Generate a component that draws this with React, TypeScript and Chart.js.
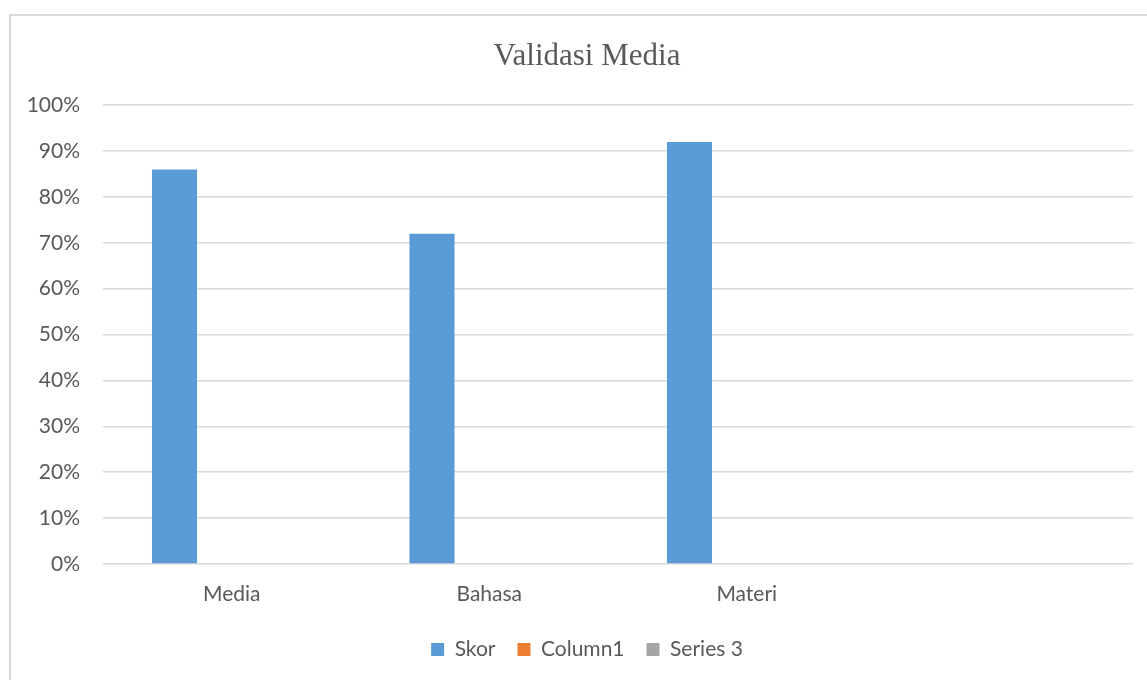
import React, { useEffect, useRef } from "react";
import { Chart, registerables } from "chart.js";

Chart.register(...registerables);

const categories = ["Media", "Bahasa", "Materi", ""];
const skorValues = [86, 72, 92, null];
const column1Values = [null, null, null, null];
const series3Values = [null, null, null, null];
const yTicks = [0, 10, 20, 30, 40, 50, 60, 70, 80, 90, 100];

const TEXT = "#595959";
const SANS = "Lato";

export default function App() {
  const ref = useRef<HTMLCanvasElement | null>(null);

  useEffect(() => {
    if (!ref.current) return;
    const chart = new Chart(ref.current, {
      type: "bar",
      data: {
        labels: categories,
        datasets: [
          { label: "Skor", data: skorValues, backgroundColor: "#5B9BD5", borderWidth: 0, yAxisID: "y" },
          { label: "Column1", data: column1Values, backgroundColor: "#ED7D31", borderWidth: 0, yAxisID: "y" },
          { label: "Series 3", data: series3Values, backgroundColor: "#A5A5A5", borderWidth: 0, yAxisID: "y" },
        ],
      },
      options: {
        animation: false,
        responsive: false,
        maintainAspectRatio: false,
        devicePixelRatio: 1,
        datasets: { bar: { categoryPercentage: 0.667, barPercentage: 0.787 } },
        layout: { padding: { left: 16, right: 0, top: 0, bottom: 10 } },
        plugins: {
          tooltip: { enabled: false },
          title: {
            display: true,
            text: "Validasi Media",
            color: TEXT,
            font: { family: "Liberation Serif", size: 31, weight: "normal" },
            padding: { top: 22, bottom: 30 },
          },
          legend: {
            position: "bottom",
            labels: {
              color: TEXT,
              font: { family: SANS, size: 21 },
              boxWidth: 13,
              boxHeight: 13,
              padding: 22,
            },
          },
        },
        scales: {
          x: {
            grid: { display: false, drawTicks: false },
            border: { display: false },
            ticks: {
              color: TEXT,
              font: { family: SANS, size: 21 },
              padding: 18,
              autoSkip: false,
              maxRotation: 0,
            },
            afterFit: (s: any) => {
              s.height = 53;
            },
          },
          y: {
            min: 0,
            max: 100,
            grid: { color: "#d9d9d9", lineWidth: 1.5, drawTicks: false },
            border: { display: false },
            afterBuildTicks: (s: any) => {
              s.ticks = yTicks.map((v) => ({ value: v }));
            },
            ticks: {
              color: TEXT,
              font: { family: SANS, size: 21 },
              padding: 23,
              callback: (v: any) => v + "%",
            },
            afterFit: (s: any) => {
              s.width = 76;
            },
          },
          yRight: {
            position: "right",
            display: true,
            grid: { display: false, drawTicks: false },
            border: { display: false },
            ticks: { display: false },
            afterFit: (s: any) => {
              s.width = 14;
            },
          },
        },
      },
    });
    return () => chart.destroy();
  }, []);

  return (
    <div style={{ position: "fixed", inset: 0, overflow: "hidden", background: "#fff" }}>
      <div
        style={{
          position: "absolute",
          left: 9,
          top: 14,
          width: 1300,
          height: 800,
          border: "2px solid #d9d9d9",
          boxSizing: "border-box",
        }}
      />
      <canvas
        ref={ref}
        width={1136}
        height={664}
        style={{ position: "absolute", left: 11, top: 16, width: 1136, height: 664 }}
      />
    </div>
  );
}
